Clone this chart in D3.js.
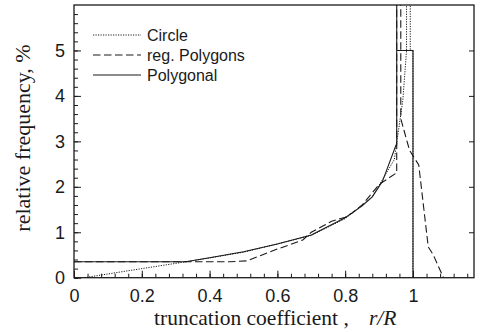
<!DOCTYPE html>
<html><head><meta charset="utf-8">
<script src="https://cdn.jsdelivr.net/npm/d3@7"></script>
<style>body{margin:0;background:#fff}svg{display:block}</style>
</head><body><svg id="c" width="483" height="332"></svg>
<script>
const xMajorTicks = [0, 0.2, 0.4, 0.6, 0.8, 1];
const xTickLabels = ["0", "0.2", "0.4", "0.6", "0.8", "1"];
const yMajorTicks = [0, 1, 2, 3, 4, 5];
const yTickLabels = ["0", "1", "2", "3", "4", "5"];
const seriesNames = ["Circle", "reg. Polygons", "Polygonal"];
const circleX = [0.03, 0.2, 0.33, 0.5, 0.7, 0.8, 0.88, 0.945, 0.97, 0.981, 0.981, 0.992, 0.992, 1.0, 1.0];
const circleY = [0, 0.2, 0.35, 0.56, 0.93, 1.3, 1.78, 2.6, 3.9, 5.0, 6.5, 6.5, 5.0, 5.0, 0];
const polyRegX = [0, 0.46, 0.51, 0.555, 0.6, 0.675, 0.7, 0.76, 0.8, 0.82, 0.85, 0.9, 0.95, 0.952, 0.952, 0.964, 0.964, 0.975, 0.99, 1.017, 1.045, 1.06, 1.09];
const polyRegY = [0.35, 0.35, 0.37, 0.5, 0.63, 0.83, 1.0, 1.24, 1.33, 1.42, 1.6, 2.05, 2.3, 2.3, 6.5, 6.5, 3.5, 3.2, 2.8, 2.48, 0.68, 0.5, 0];
const polygonalX = [0, 0.33, 0.4, 0.5, 0.6, 0.7, 0.8, 0.85, 0.88, 0.91, 0.95, 0.952, 0.952, 0.952, 1.0, 1.0];
const polygonalY = [0.35, 0.35, 0.44, 0.57, 0.74, 0.94, 1.32, 1.58, 1.78, 2.12, 2.92, 2.92, 6.5, 5.0, 5.0, 0];

const svg = d3.select("#c");
const L = 74, R = 474, T = 5, B = 277.7;
const x = d3.scaleLinear().domain([0, 1.18]).range([L, R]);
const y = d3.scaleLinear().domain([0, 6]).range([B, T]);
const ink = "#1a1a1a";

svg.append("clipPath").attr("id", "clip").append("rect")
  .attr("x", L).attr("y", T).attr("width", R - L).attr("height", B - T);

// minor ticks
const xMinor = d3.range(0, 1.17, 0.04);
const yMinor = d3.range(0, 6.0, 0.2);
svg.append("g").attr("transform", `translate(0,${B})`)
  .call(d3.axisBottom(x).tickValues(xMinor).tickSize(-4).tickFormat(""))
  .call(g => { g.select(".domain").remove(); g.selectAll("line").attr("stroke", ink); });
svg.append("g").attr("transform", `translate(${L},0)`)
  .call(d3.axisLeft(y).tickValues(yMinor).tickSize(-4).tickFormat(""))
  .call(g => { g.select(".domain").remove(); g.selectAll("line").attr("stroke", ink); });
// major ticks + labels
svg.append("g").attr("transform", `translate(0,${B})`)
  .call(d3.axisBottom(x).tickValues(xMajorTicks).tickSize(-7).tickPadding(12)
    .tickFormat((d, i) => xTickLabels[i]))
  .call(g => {
    g.select(".domain").remove();
    g.selectAll("line").attr("stroke", ink);
    g.selectAll("text").attr("font-family", "Liberation Sans, Arial, sans-serif")
      .attr("font-size", 18).attr("fill", ink);
  });
svg.append("g").attr("transform", `translate(${L},0)`)
  .call(d3.axisLeft(y).tickValues(yMajorTicks).tickSize(-7).tickPadding(9)
    .tickFormat((d, i) => yTickLabels[i]))
  .call(g => {
    g.select(".domain").remove();
    g.selectAll("line").attr("stroke", ink);
    g.selectAll("text").attr("font-family", "Liberation Sans, Arial, sans-serif")
      .attr("font-size", 18).attr("fill", ink);
  });
svg.append("g").attr("transform", `translate(${R},0)`)
  .call(d3.axisRight(y).tickValues(yMajorTicks.slice(1)).tickSize(-5).tickFormat(""))
  .call(g => { g.select(".domain").remove(); g.selectAll("line").attr("stroke", ink); });

// frame
svg.append("rect").attr("x", L).attr("y", T).attr("width", R - L).attr("height", B - T)
  .attr("fill", "none").attr("stroke", ink).attr("stroke-width", 1.3);

const line = d3.line().x(d => x(d[0])).y(d => y(d[1]));
const styles = [
  {xs: circleX, ys: circleY, dash: "1.2,1.3", w: 1},
  {xs: polyRegX, ys: polyRegY, dash: "7.5,3.5", w: 1.1},
  {xs: polygonalX, ys: polygonalY, dash: null, w: 1.1}
];
const gLines = svg.append("g").attr("clip-path", "url(#clip)");
styles.forEach(s => {
  const pts = s.xs.map((v, i) => [v, s.ys[i]]);
  gLines.append("path").attr("d", line(pts)).attr("fill", "none")
    .attr("stroke", ink).attr("stroke-width", s.w)
    .attr("stroke-dasharray", s.dash);
});

// legend
const leg = svg.append("g");
seriesNames.forEach((n, i) => {
  const yy = 35 + i * 20;
  leg.append("line").attr("x1", 93).attr("x2", 141).attr("y1", yy).attr("y2", yy)
    .attr("stroke", ink).attr("stroke-width", styles[i].w)
    .attr("stroke-dasharray", styles[i].dash);
  leg.append("text").attr("x", 147).attr("y", yy).attr("dy", "0.35em")
    .attr("font-family", "Liberation Sans, Arial, sans-serif").attr("font-size", 16)
    .attr("fill", ink).text(n);
});

// axis titles
const xt = svg.append("text").attr("x", 154).attr("y", 325)
  .attr("font-family", "Liberation Serif, Times New Roman, serif").attr("font-size", 21.5)
  .attr("fill", ink);
xt.append("tspan").text("truncation coefficient ,");
xt.append("tspan").attr("x", 369).attr("font-style", "italic").text("r/R");

svg.append("text").attr("transform", "translate(30,138) rotate(-90)")
  .attr("text-anchor", "middle")
  .attr("font-family", "Liberation Serif, Times New Roman, serif").attr("font-size", 22)
  .attr("fill", ink).text("relative frequency, %");
</script></body></html>
